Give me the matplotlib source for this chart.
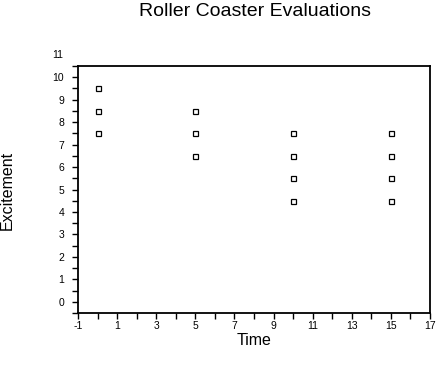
import numpy as np
import matplotlib
matplotlib.use("Agg")
import matplotlib.pyplot as plt
import matplotlib.transforms as mtransforms
from matplotlib import rcParams

rcParams['font.family'] = ['Liberation Sans', 'DejaVu Sans']
rcParams['axes.unicode_minus'] = False

# data
time = [0, 0, 0, 5, 5, 5, 10, 10, 10, 10, 15, 15, 15, 15]
excitement = [9.5, 8.5, 7.5, 8.5, 7.5, 6.5, 7.5, 6.5, 5.5, 4.5, 7.5, 6.5, 5.5, 4.5]

x_major = [-1, 1, 3, 5, 7, 9, 11, 13, 15, 17]
x_minor = [0, 2, 4, 6, 8, 10, 12, 14, 16]
y_major = list(range(0, 11))
y_minor = [-0.5 + i for i in range(12)]

fig = plt.figure(figsize=(4.36, 3.65), dpi=100)
ax = fig.add_axes([78 / 436, 1 - 313 / 365, (430 - 78) / 436, (313 - 66) / 365])

ax.plot(time, excitement, linestyle='none', marker='s', markersize=3.6,
        markerfacecolor='white', markeredgecolor='black', markeredgewidth=0.9)

ax.set_xlim(-1, 17)
ax.set_ylim(-0.5, 10.5)
ax.set_xticks(x_major)
ax.set_xticks(x_minor, minor=True)
ax.set_yticks(y_major)
ax.set_yticks(y_minor, minor=True)

for s in ax.spines.values():
    s.set_linewidth(1.3)
    s.set_color('black')

ax.tick_params(which='both', direction='out', length=4, width=1.0,
               labelsize=7.5)
ax.tick_params(axis='x', pad=2)
ax.tick_params(axis='y', pad=6)

# "11" label sits above the frame in the original
trans = mtransforms.blended_transform_factory(ax.transAxes, ax.transData)
ax.text(-0.043, 11, "11", transform=trans, ha='right', va='center',
        fontsize=7.5, clip_on=False)

ax.set_xlabel("Time", fontsize=11.5, labelpad=1)
fig.text(7 / 436, 1 - 190 / 365, "Excitement", rotation=90,
         ha='center', va='center', fontsize=11.5)
fig.text(255 / 436, 1 - 12 / 365, "Roller Coaster Evaluations",
         ha='center', va='center', fontsize=14)

fig.savefig("out.png", dpi=100)
